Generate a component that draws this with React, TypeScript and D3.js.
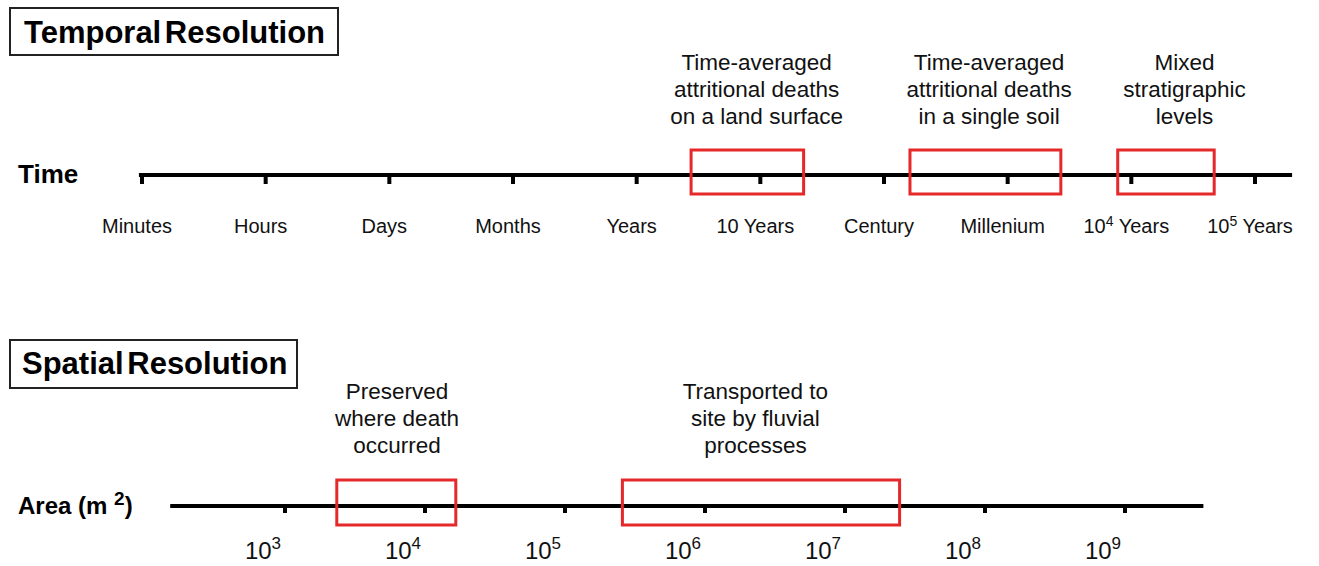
import React from "react";
import * as d3 from "d3";

// ---- Data ----
const timeTicks = ["Minutes", "Hours", "Days", "Months", "Years", "10 Years", "Century", "Millenium", "10^4 Years", "10^5 Years"];
// time boxes in tick-index units [start, end]
const timeBoxes: [number, number][] = [[4.44, 5.35], [6.21, 7.43], [7.89, 8.67]];
const timeNotes: string[][] = [
  ["Time-averaged", "attritional deaths", "on a land surface"],
  ["Time-averaged", "attritional deaths", "in a single soil"],
  ["Mixed", "stratigraphic", "levels"],
];
const timeNoteCenters = [4.97, 6.85, 8.43];

const areaExponents = [3, 4, 5, 6, 7, 8, 9];
// area boxes in log10(m^2) units
const areaBoxes: [number, number][] = [[3.37, 4.22], [5.41, 7.39]];
const areaNotes: string[][] = [
  ["Preserved", "where death", "occurred"],
  ["Transported to", "site by fluvial", "processes"],
];
const areaNoteCenters = [3.8, 6.36];

const RED = "#e5282a";
const FONT = "'Liberation Sans', Arial, Helvetica, sans-serif";

function TickLabel({ label }: { label: string }) {
  const m = label.match(/^10\^(\d+)(.*)$/);
  if (m) {
    return (
      <>
        10<tspan fontSize={14} dy={-7}>{m[1]}</tspan>
        <tspan dy={7}>{m[2]}</tspan>
      </>
    );
  }
  return <>{label}</>;
}

export default function App() {
  const W = 1319, H = 566;
  const xTime = d3.scaleLinear().domain([0, 9]).range([142, 1255]);
  const xArea = d3.scaleLinear().domain([3, 9]).range([285, 1125]);
  const yTime = 175;
  const yArea = 506;

  return (
    <svg width={W} height={H} style={{ position: "absolute", left: 0, top: 0, background: "#fff" }} fontFamily={FONT}>
      {/* Titles */}
      <rect x={10} y={8} width={328} height={47} fill="none" stroke="#222" strokeWidth={2} />
      <text x={24} y={43} fontSize={31} fontWeight="bold" wordSpacing={-5}>Temporal Resolution</text>
      <rect x={10} y={340} width={287} height={48} fill="none" stroke="#222" strokeWidth={2} />
      <text x={22} y={374} fontSize={31} fontWeight="bold" wordSpacing={-5}>Spatial Resolution</text>

      {/* Time axis */}
      <text x={18} y={183} fontSize={26} fontWeight="bold">Time</text>
      <line x1={xTime(-0.025)} x2={xTime(9.3)} y1={yTime} y2={yTime} stroke="#000" strokeWidth={4} />
      {timeTicks.map((t, i) => (
        <g key={t}>
          <line x1={xTime(i)} x2={xTime(i)} y1={yTime} y2={yTime + 9} stroke="#000" strokeWidth={4} />
          <text x={xTime(i) - 5} y={233} fontSize={20} textAnchor="middle" fill="#111">
            <TickLabel label={t} />
          </text>
        </g>
      ))}
      {timeBoxes.map(([a, b], i) => (
        <rect key={i} x={xTime(a)} y={150} width={xTime(b) - xTime(a)} height={44} fill="none" stroke={RED} strokeWidth={3} />
      ))}
      {timeNotes.map((lines, i) => (
        <text key={i} fontSize={22.5} textAnchor="middle" fill="#111">
          {lines.map((l, j) => (
            <tspan key={j} x={xTime(timeNoteCenters[i])} y={70 + j * 27}>{l}</tspan>
          ))}
        </text>
      ))}

      {/* Area axis */}
      <text x={18} y={514} fontSize={24} fontWeight="bold">
        Area (m <tspan fontSize={19} dy={-9}>2</tspan><tspan dy={9}>)</tspan>
      </text>
      <line x1={xArea(2.18)} x2={xArea(9.56)} y1={yArea} y2={yArea} stroke="#000" strokeWidth={4} />
      {areaExponents.map((e) => (
        <g key={e}>
          <line x1={xArea(e)} x2={xArea(e)} y1={yArea} y2={yArea + 7} stroke="#000" strokeWidth={4} />
          <text x={xArea(e) - 22} y={559} fontSize={24} textAnchor="middle" fill="#111">
            10<tspan fontSize={17} dy={-10}>{e}</tspan>
          </text>
        </g>
      ))}
      {areaBoxes.map(([a, b], i) => (
        <rect key={i} x={xArea(a)} y={480} width={xArea(b) - xArea(a)} height={45} fill="none" stroke={RED} strokeWidth={3} />
      ))}
      {areaNotes.map((lines, i) => (
        <text key={i} fontSize={22.5} textAnchor="middle" fill="#111">
          {lines.map((l, j) => (
            <tspan key={j} x={xArea(areaNoteCenters[i])} y={399 + j * 27}>{l}</tspan>
          ))}
        </text>
      ))}
    </svg>
  );
}
